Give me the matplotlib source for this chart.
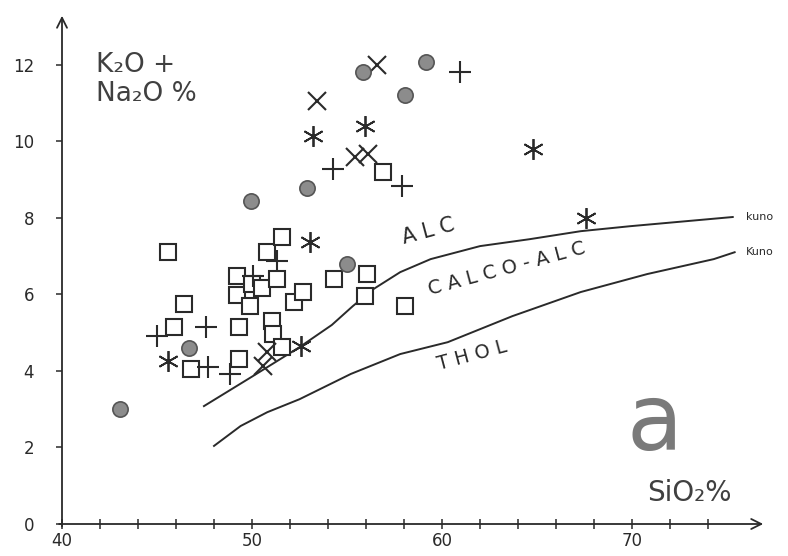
import matplotlib
matplotlib.use("Agg")
import matplotlib.pyplot as plt

cercles_x = [43.05, 46.7, 49.95, 52.9, 55.0, 55.84, 58.05, 59.16]
cercles_y = [3.0, 4.6, 8.43, 8.77, 6.79, 11.8, 11.2, 12.06]

carres_x = [45.6, 46.4, 45.9, 46.8, 49.3, 49.3, 49.2, 49.2, 49.9, 50.0, 50.5, 51.3,
            50.8, 51.6, 51.05, 51.1, 51.6, 52.2, 52.7, 54.3, 56.05, 55.95, 58.05, 56.9]
carres_y = [7.1, 5.74, 5.14, 4.05, 5.14, 4.3, 6.47, 5.98, 5.7, 6.27, 6.16, 6.4,
            7.1, 7.5, 5.3, 4.96, 4.62, 5.8, 6.05, 6.4, 6.53, 5.95, 5.7, 9.19]

plus_x = [45.0, 47.6, 47.7, 48.85, 50.05, 51.3, 54.26, 57.9, 60.95]
plus_y = [4.9, 5.14, 4.1, 3.92, 6.48, 6.87, 9.27, 8.82, 11.8]

croix_x = [56.6, 53.4, 55.4, 56.1, 50.8, 50.6]
croix_y = [12.0, 11.05, 9.58, 9.66, 4.49, 4.12]

etoiles_x = [45.6, 53.2, 55.95, 53.05, 52.6, 64.8, 67.6]
etoiles_y = [4.26, 10.13, 10.4, 7.36, 4.65, 9.8, 8.0]

# limites de Kuno
kuno1_x = [47.47, 50.0, 52.5, 54.2, 55.3, 56.4, 57.8, 59.4, 62.0, 64.6, 67.3, 69.9, 75.3]
kuno1_y = [3.08, 3.85, 4.62, 5.2, 5.69, 6.14, 6.58, 6.92, 7.26, 7.44, 7.65, 7.78, 8.02]
kuno2_x = [48.0, 49.4, 50.8, 52.5, 55.2, 57.8, 60.3, 63.7, 67.3, 70.8, 74.3, 75.4]
kuno2_y = [2.04, 2.56, 2.92, 3.26, 3.92, 4.44, 4.75, 5.43, 6.06, 6.53, 6.92, 7.1]

encre = "#2a2a2a"

fig = plt.figure(figsize=(7.88, 5.56), dpi=100)
ax = fig.add_axes([62/788, 32/556, 704/788, 511/556])
ax.set_xlim(40, 77.05)
ax.set_ylim(0, 13.35)

for s in ax.spines.values():
    s.set_visible(False)

# axes avec fleches
ax.annotate("", xy=(1.0, 0), xytext=(-0.008, 0), xycoords="axes fraction",
            arrowprops=dict(arrowstyle="->", color=encre, lw=1.3,
                            mutation_scale=18))
ax.annotate("", xy=(0, 1.0), xytext=(0, -0.01), xycoords="axes fraction",
            arrowprops=dict(arrowstyle="->", color=encre, lw=1.3,
                            mutation_scale=18))

ax.set_xticks([40, 50, 60, 70])
ax.set_xticks(range(40, 76, 2), minor=True)
ax.set_yticks([0, 2, 4, 6, 8, 10, 12])
ax.tick_params(axis="x", which="both", direction="inout", length=7, width=1.1,
               color=encre, labelsize=12, labelcolor=encre, pad=2)
ax.tick_params(axis="y", direction="out", length=4, width=1.1, color=encre,
               labelsize=12, labelcolor=encre, pad=16)

ax.plot(kuno1_x, kuno1_y, color=encre, lw=1.4)
ax.plot(kuno2_x, kuno2_y, color=encre, lw=1.4)

ax.plot(carres_x, carres_y, "s", ms=12, mfc="white", mec=encre, mew=1.5)
ax.plot(plus_x, plus_y, "+", ms=16, mec=encre, mew=1.5)
ax.plot(croix_x, croix_y, "x", ms=13, mec=encre, mew=1.5)
ax.plot(etoiles_x, etoiles_y, marker=(6, 2, 0), ls="none", ms=15, mec=encre, mew=1.3)
ax.plot(cercles_x, cercles_y, "o", ms=11, mfc="#8c8c8c", mec="#555555", mew=1.2)

ax.text(76.0, 8.02, "kuno", fontsize=8, color=encre, va="center")
ax.text(76.0, 7.1, "Kuno", fontsize=8, color=encre, va="center")

ax.text(59.3, 7.65, "A L C", fontsize=15, color=encre, rotation=15,
        ha="center", va="center")
ax.text(63.4, 6.66, "C A L C O - A L C", fontsize=14, color=encre, rotation=15,
        ha="center", va="center")
ax.text(61.6, 4.4, "T H O L", fontsize=14, color=encre, rotation=15,
        ha="center", va="center")

ax.text(41.8, 11.6, "K₂O +\nNa₂O %", fontsize=19, color="#404040",
        ha="left", va="center", linespacing=1.15)
ax.text(73.0, 0.8, "SiO₂%", fontsize=20, color="#404040", ha="center",
        va="center")
ax.text(71.2, 2.6, "a", fontsize=66, color="#7a7a7a", ha="center",
        va="center")

fig.savefig("out.png", dpi=100)
